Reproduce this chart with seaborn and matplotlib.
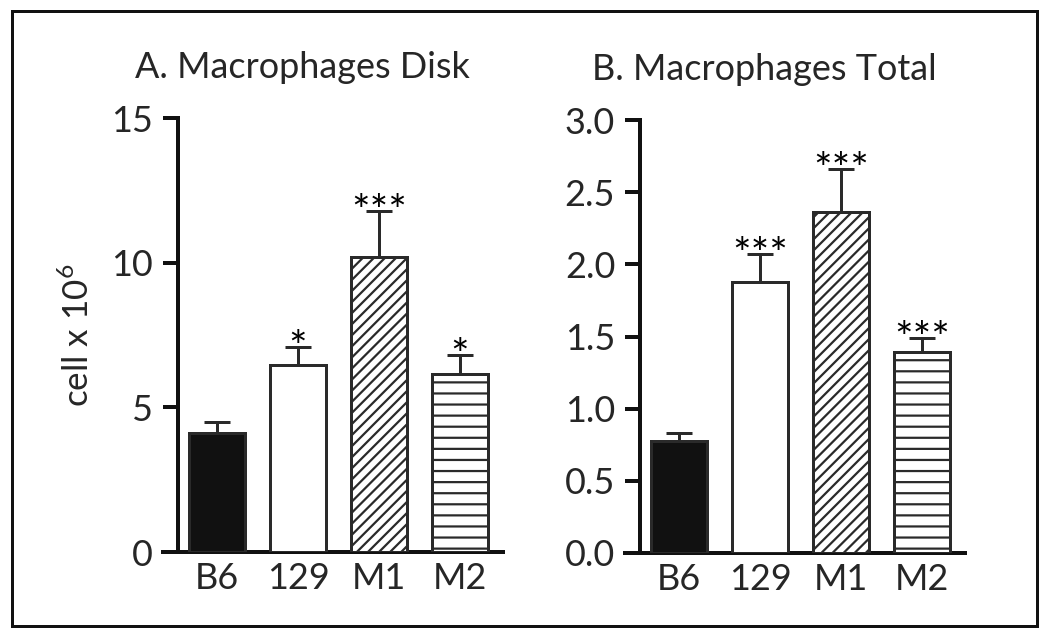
import matplotlib
matplotlib.use('Agg')
import matplotlib.pyplot as plt
from matplotlib.patches import Rectangle
import seaborn as sns
import numpy as np

groups = ['B6', '129', 'M1', 'M2']

disk_mean = [4.1, 6.47, 10.2, 6.15]
disk_sem = [0.4, 0.63, 1.6, 0.65]
disk_stars = ['', '*', '***', '*']

total_mean = [0.776, 1.88, 2.36, 1.39]
total_sem = [0.055, 0.19, 0.30, 0.10]
total_stars = ['', '***', '***', '***']

fills = ['#111111', 'white', 'white', 'white']
hatches = ['', '', '////', '--']

DPI = 133
W, H = 1050, 640

sns.set_style('ticks')
plt.rcParams['font.family'] = ['Lato', 'DejaVu Sans']
plt.rcParams['mathtext.fontset'] = 'custom'
plt.rcParams['mathtext.rm'] = 'Lato'
plt.rcParams['hatch.linewidth'] = 1.2
plt.rcParams['hatch.color'] = '#222222'


def px(p):
    # pixels -> points at this dpi
    return p * 72.0 / DPI


fig = plt.figure(figsize=(W / DPI, H / DPI), dpi=DPI)
fig.patch.set_facecolor('white')

ax_a = fig.add_axes([163 / W, 88 / H, 340 / W, 434 / H])
ax_b = fig.add_axes([625 / W, 87 / H, 340 / W, 433 / H])


def panel(ax, means, sems, stars, title, ymax, yticks, ticklabels):
    sns.barplot(x=groups, y=means, hue=groups, palette=fills, legend=False,
                errorbar=None, width=0.69, edgecolor='#2a2a2a',
                linewidth=px(3), ax=ax, zorder=3)
    for patch, h in zip(ax.patches, hatches):
        patch.set_hatch(h)
    ax.errorbar(np.arange(len(groups)), means,
                yerr=[np.zeros(len(sems)), sems], fmt='none',
                ecolor='#2a2a2a', elinewidth=px(3), capsize=px(13),
                capthick=px(3), zorder=2)
    for i, s in enumerate(stars):
        if s:
            ax.annotate(s, (i, means[i] + sems[i]), xytext=(0, -px(15)),
                        textcoords='offset points', ha='center',
                        va='baseline', fontsize=px(44), color='black')
    ax.set_xlim(-0.667, 3.53)
    ax.set_ylim(0, ymax)
    ax.set_yticks(yticks)
    ax.set_yticklabels(ticklabels)
    ax.spines['left'].set_position(('data', -0.48))
    for side in ['top', 'right']:
        ax.spines[side].set_visible(False)
    for side in ['left', 'bottom']:
        ax.spines[side].set_linewidth(px(4))
        ax.spines[side].set_color('#111111')
    ax.tick_params(axis='y', length=px(15), width=px(4), pad=px(10),
                   labelsize=px(36), color='#111111')
    ax.tick_params(axis='x', length=0, pad=px(10), labelsize=px(36))
    ax.set_xlabel('')
    ax.set_title(title, fontsize=px(36), x=0.41, pad=px(40))


panel(ax_a, disk_mean, disk_sem, disk_stars, 'A. Macrophages Disk',
      15, [0, 5, 10, 15], ['0', '5', '10', '15'])
panel(ax_b, total_mean, total_sem, total_stars, 'B. Macrophages Total',
      3.0, [0, 0.5, 1.0, 1.5, 2.0, 2.5, 3.0],
      ['0.0', '0.5', '1.0', '1.5', '2.0', '2.5', '3.0'])

ax_a.set_ylabel(r'cell x 10$^{\mathregular{6}}$', fontsize=px(35), labelpad=px(16))

fig.patches.append(Rectangle((12 / W, 14 / H), 1025 / W, 615 / H,
                             transform=fig.transFigure, fill=False,
                             edgecolor='#111111', linewidth=px(3)))

fig.savefig('out.png', dpi=DPI)
